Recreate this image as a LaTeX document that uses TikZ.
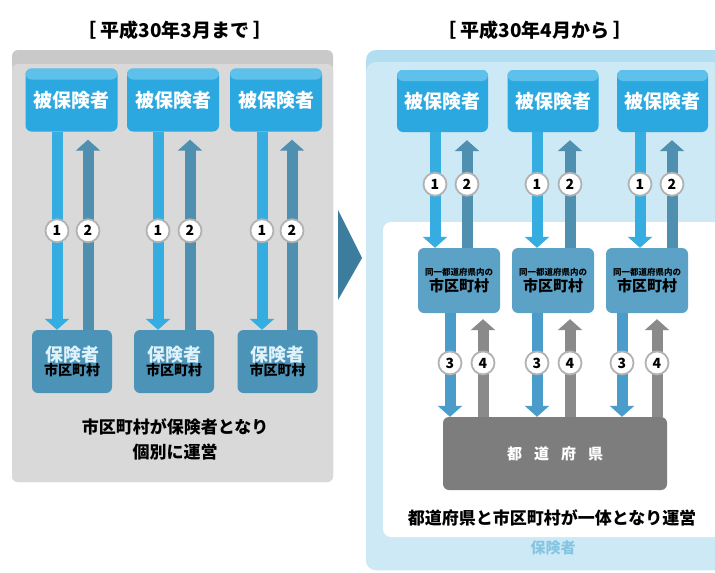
\documentclass[tikz,border=0pt]{standalone}
\usepackage{fontspec}
\newfontfamily\jp{Noto Sans CJK JP}
\usetikzlibrary{arrows.meta}

\definecolor{panelgray}{HTML}{D9D9D9}
\definecolor{bandgray}{HTML}{C9C9C9}
\definecolor{insblue}{HTML}{2BA8DF}
\definecolor{insbluetop}{HTML}{5EC1EB}
\definecolor{arrowblue}{HTML}{36ADE1}
\definecolor{upsteel}{HTML}{4F8FB0}
\definecolor{leftbot}{HTML}{4C93B8}
\definecolor{midbox}{HTML}{5BA2C6}
\definecolor{downmid}{HTML}{4A9DCB}
\definecolor{upgray}{HTML}{8A8A8A}
\definecolor{prefgray}{HTML}{7D7D7D}
\definecolor{chev}{HTML}{3C7D9E}
\definecolor{panelblue}{HTML}{CDE9F6}
\definecolor{bandblue}{HTML}{B3DEF2}
\definecolor{hokenlabel}{HTML}{86C5E2}
\definecolor{lighttext}{HTML}{DDF2FB}

\begin{document}
\begin{tikzpicture}[x=1pt,y=-1pt,>=Triangle,font=\jp\bfseries,
  insbox/.style={rounded corners=6pt,fill=insblue,text=white,
    minimum width=92pt,minimum height=63pt,inner sep=0pt,
    font=\jp\bfseries\fontsize{19}{22}\selectfont,
    path picture={\fill[insbluetop] ([yshift=2pt]path picture bounding box.north west)
      rectangle ([yshift=-11pt]path picture bounding box.north east);}},
  hokenbox/.style={rounded corners=6pt,fill=leftbot,align=center,
    minimum width=80pt,minimum height=63pt,inner sep=0pt},
  citybox/.style={rounded corners=6pt,fill=midbox,align=center,
    minimum width=82pt,minimum height=65pt,inner sep=0pt},
  num/.style={circle,fill=white,draw=gray!60,line width=1.8pt,inner sep=0pt,
    minimum size=23pt,text=black,font=\jp\bfseries\fontsize{14}{14}\selectfont},
  downarr/.style={draw=arrowblue,line width=11pt,-{Triangle[width=24pt,length=11pt]}},
  uparr/.style={draw=upsteel,line width=11pt,{Triangle[width=24pt,length=11pt]}-,shorten <=8pt},
  bigtext/.style={font=\jp\bfseries\fontsize{17}{20}\selectfont}]
\clip (0,0) rectangle (715,573);
\fill[white] (0,0) rectangle (715,573);

% --- before: April 2018 ---
\fill[bandgray,rounded corners=6pt] (12,50) rectangle (333,482);
\fill[panelgray,rounded corners=6pt] (12,64) rectangle (333,482);
\node[bigtext,font=\jp\bfseries\fontsize{19}{22}\selectfont] (ttlA) at (175,30) {［ 平成30年3月まで ］};

\foreach \i/\x in {1/71.5, 2/173, 3/276}
  \node[insbox] (lt\i) at (\x,100) {被保険者};
\foreach \i/\x in {1/72, 2/174, 3/277.5}
  \node[hokenbox] (lb\i) at (\x,361.5)
    {{\color{lighttext}\fontsize{18}{21}\selectfont 保険者}\\[-1pt]{\fontsize{14}{16}\selectfont 市区町村}};

\foreach \i/\xd/\xu in {1/57/88, 2/158/190, 3/262/292}{
  \draw[downarr] (lt\i.south -| \xd,0) -- (lb\i.north -| \xd,0) node[num,pos=.5] {1};
  \draw[uparr] (lt\i.south -| \xu,0) -- (lb\i.north -| \xu,0) node[num,pos=.5] {2};
}

\node[bigtext] (capA) at (175,427) {市区町村が保険者となり};
\node[bigtext] (capB) at (175,452) {個別に運営};

% chevron
\fill[chev] (338,210) -- (362,258) -- (338,300) -- cycle;

% --- after: April 2018 ---
\fill[bandblue,rounded corners=10pt] (366,50) rectangle (740,570);
\fill[panelblue,rounded corners=10pt] (366,62) rectangle (740,570);
\fill[white,rounded corners=8pt] (383,222) rectangle (740,537);
\node[bigtext,font=\jp\bfseries\fontsize{19}{22}\selectfont] (ttlB) at (535,30) {［ 平成30年4月から ］};

\foreach \i/\x in {1/442.5, 2/553, 3/662.5}
  \node[insbox,minimum width=91pt,minimum height=62pt] (rt\i) at (\x,101) {被保険者};
\foreach \i/\x in {1/459, 2/553, 3/647}
  \node[citybox] (rm\i) at (\x,280.5)
    {{\fontsize{8.5}{10}\selectfont 同一都道府県内の}\\[1pt]{\fontsize{15}{17}\selectfont 市区町村}};

\node[rounded corners=6pt,fill=prefgray,text=white,minimum width=224pt,minimum height=73pt,
  font=\jp\bfseries\fontsize{15}{18}\selectfont] (pref) at (555,453.5)
  {都\hspace{.8em}道\hspace{.8em}府\hspace{.8em}県};

\foreach \i/\xd/\xu in {1/435/467, 2/537/570, 3/640/672}{
  \draw[downarr] (rt\i.south -| \xd,0) -- (rm\i.north -| \xd,0) node[num,pos=.45] {1};
  \draw[uparr] (rt\i.south -| \xu,0) -- (rm\i.north -| \xu,0) node[num,pos=.45] {2};
}
\foreach \i/\xd/\xu in {1/450/483, 2/537/570, 3/622/657}{
  \draw[downarr,draw=downmid] (rm\i.south -| \xd,0) -- (pref.north -| \xd,0) node[num,pos=.48] {3};
  \draw[uparr,draw=upgray,shorten <=6pt] (rm\i.south -| \xu,0) -- (pref.north -| \xu,0) node[num,pos=.48] {4};
}

\node[bigtext] (capC) at (552,518) {都道府県と市区町村が一体となり運営};
\node[text=hokenlabel,font=\jp\bfseries\fontsize{15}{18}\selectfont] (hoken) at (553,548) {保険者};
\end{tikzpicture}
\end{document}
